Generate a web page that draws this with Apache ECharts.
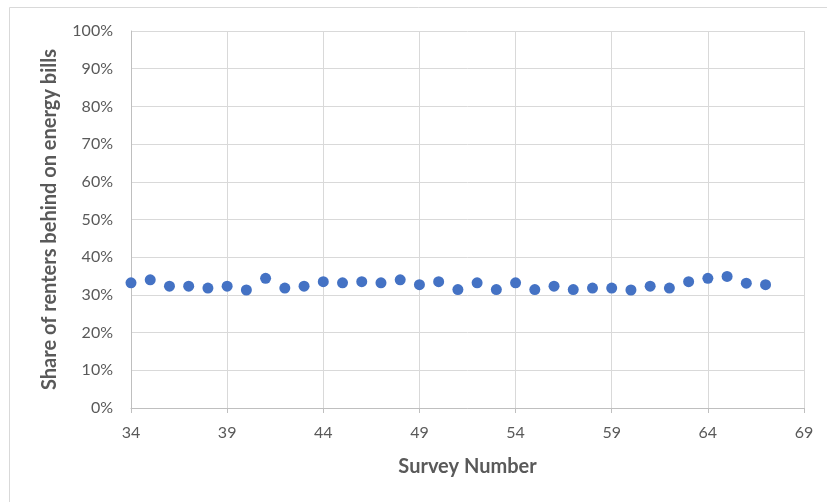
<!DOCTYPE html>
<html>
<head>
<meta charset="utf-8">
<script src="https://cdn.jsdelivr.net/npm/echarts@6/dist/echarts.min.js"></script>
<style>
html,body{margin:0;padding:0;background:#fff;}
#chart{width:827px;height:502px;}
</style>
</head>
<body>
<div id="chart"></div>
<script>
var surveyNumbers = [34,35,36,37,38,39,40,41,42,43,44,45,46,47,48,49,50,51,52,53,54,55,56,57,58,59,60,61,62,63,64,65,66,67];
var shareBehind = [0.332,0.340,0.323,0.323,0.318,0.323,0.313,0.344,0.318,0.323,0.335,0.332,0.335,0.332,0.340,0.327,0.335,0.314,0.332,0.314,0.332,0.314,0.323,0.314,0.318,0.318,0.313,0.323,0.318,0.335,0.344,0.349,0.331,0.327];
var xTitle = 'Survey Number';
var yTitle = 'Share of renters behind on energy bills';

var points = surveyNumbers.map(function(n,i){return [n, shareBehind[i]];});
var font = 'Lato, "Open Sans", sans-serif';
var chart = echarts.init(document.getElementById('chart'), null, {renderer:'canvas'});
chart.setOption({
  animation:false,
  backgroundColor:'#ffffff',
  graphic:[{
    type:'polyline',
    shape:{points:[[9.5,502],[9.5,7.5],[827,7.5]]},
    style:{stroke:'#d9d9d9',lineWidth:1,fill:null},
    silent:true
  }],
  grid:{left:131,right:23,top:31,bottom:94,containLabel:false},
  xAxis:{
    type:'value',min:34,max:69,interval:5,
    name:xTitle,nameLocation:'middle',nameGap:49,
    nameTextStyle:{fontFamily:font,fontSize:20,fontWeight:'bold',color:'#595959'},
    axisLine:{show:true,lineStyle:{color:'#bfbfbf',width:1}},
    axisTick:{show:true,length:5,lineStyle:{color:'#bfbfbf'}},
    axisLabel:{fontFamily:font,fontSize:16,color:'#595959',margin:17},
    splitLine:{show:true,lineStyle:{color:'#d9d9d9',width:1}}
  },
  yAxis:{
    type:'value',min:0,max:1,interval:0.1,
    name:yTitle,nameLocation:'middle',nameGap:71,nameRotate:90,
    nameTextStyle:{fontFamily:font,fontSize:20,fontWeight:'bold',color:'#595959'},
    axisLine:{show:true,lineStyle:{color:'#bfbfbf',width:1}},
    axisTick:{show:false},
    axisLabel:{fontFamily:font,fontSize:16,color:'#595959',margin:18,
      formatter:function(v){return Math.round(v*100)+'%';}},
    splitLine:{show:true,lineStyle:{color:'#d9d9d9',width:1}}
  },
  series:[{
    type:'scatter',
    data:points,
    symbol:'circle',
    symbolSize:11,
    itemStyle:{color:'#4472C4',opacity:1}
  }]
});
</script>
</body>
</html>
